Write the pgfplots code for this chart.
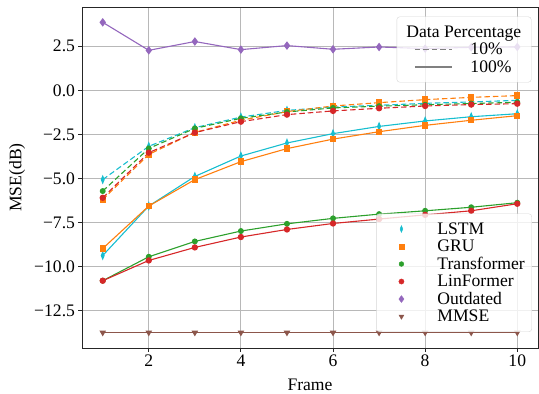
\documentclass[border=0pt]{standalone}
\usepackage{fontspec}
\setmainfont{Liberation Serif}
\usepackage{pgfplots}
\pgfplotsset{compat=1.18}

\definecolor{tcyan}{RGB}{23,190,207}
\definecolor{torange}{RGB}{255,127,14}
\definecolor{tgreen}{RGB}{44,160,44}
\definecolor{tred}{RGB}{214,39,40}
\definecolor{tpurple}{RGB}{148,103,189}
\definecolor{tbrown}{RGB}{140,86,75}

\newcommand{\fs}{\fontsize{17.6}{20}\selectfont}

\pgfplotsset{
  base/.style={width=456pt, height=341pt, scale only axis,
    xmin=0.55, xmax=10.45, ymin=-14.63, ymax=4.73},
  markleg/.style={legend image code/.code={%
      \path[draw=none, fill=none] (-20pt,0pt) -- (12pt,0pt);
      \draw[##1, fill opacity=1, draw opacity=1] plot[only marks] coordinates {(0pt,0pt)};}},
  lineleg/.style={legend image code/.code={%
      \path[draw=none, fill=none] (-10pt,0pt) -- (37pt,0pt);
      \draw[##1, draw opacity=1] (0pt,0pt) -- (37pt,0pt);}},
  legbox/.style={legend style={font=\fs, draw=black!20, fill=white,
      fill opacity=0.8, draw opacity=0.8, text opacity=1, rounded corners=3pt,
      cells={inner xsep=0pt, inner ysep=0.3pt, text height=12pt, text depth=4pt}},
    legend cell align=left},
  mLSTM/.style={tcyan, mark=diamond*, mark size=3.4pt, mark options={xscale=0.55, solid}},
  mGRU/.style={torange, mark=square*, mark size=2.6pt, mark options={solid}},
  mTrans/.style={tgreen, mark=*, mark size=2.4pt, mark options={solid}},
  mLin/.style={tred, mark=*, mark size=2.6pt, mark options={solid}},
  mOut/.style={tpurple, mark=diamond*, mark size=3.4pt, mark options={solid}},
  mMMSE/.style={tbrown, mark=triangle*, mark size=2.8pt, mark options={rotate=180, solid}},
  ten/.style={line width=1.1pt, dash pattern=on 5.5pt off 3pt},
  hundred/.style={line width=1.1pt},
}

\begin{document}
\begin{tikzpicture}
\begin{axis}[base,
  axis line style={black!85, line width=0.9pt},
  grid=major, major grid style={black!28, line width=0.9pt},
  xtick={2,4,6,8,10},
  xticklabels={\textrm{2},\textrm{4},\textrm{6},\textrm{8},\textrm{10}},
  ytick={-12.5,-10,-7.5,-5,-2.5,0,2.5},
  yticklabels={\textrm{−12.5},\textrm{−10.0},\textrm{−7.5},\textrm{−5.0},\textrm{−2.5},\textrm{0.0},\textrm{2.5}},
  tick align=outside, tick pos=left,
  major tick length=3.5pt, tick style={black!85, line width=0.9pt},
  tick label style={font=\fs},
  xlabel={Frame}, ylabel={MSE(dB)},
  every axis x label/.style={at={(axis description cs:0.5,-0.126)}, anchor=base, font=\fs},
  every axis y label/.style={at={(axis description cs:-0.1425,0.5)}, rotate=90, anchor=center, font=\fs},
  legbox,
  legend style={at={(0.9868,0.047)}, anchor=south east,
    inner xsep=5pt, inner ysep=6.5pt, column sep=22pt},
]
% 10% of the training data (dashed)
\addplot[mLSTM, ten, forget plot] coordinates {(1,-5.07)(2,-3.18)(3,-2.12)(4,-1.52)(5,-1.14)(6,-0.95)(7,-0.85)(8,-0.74)(9,-0.66)(10,-0.57)};
\addplot[mGRU, ten, forget plot] coordinates {(1,-6.20)(2,-3.64)(3,-2.39)(4,-1.70)(5,-1.21)(6,-0.89)(7,-0.70)(8,-0.53)(9,-0.40)(10,-0.30)};
\addplot[mTrans, ten, forget plot] coordinates {(1,-5.72)(2,-3.30)(3,-2.16)(4,-1.59)(5,-1.23)(6,-1.00)(7,-0.90)(8,-0.82)(9,-0.75)(10,-0.68)};
\addplot[mLin, ten, forget plot] coordinates {(1,-6.10)(2,-3.54)(3,-2.40)(4,-1.78)(5,-1.38)(6,-1.17)(7,-1.02)(8,-0.89)(9,-0.81)(10,-0.76)};
% 100% of the training data (solid)
\addplot[mLSTM, hundred, forget plot] coordinates {(1,-9.38)(2,-6.57)(3,-4.89)(4,-3.73)(5,-2.99)(6,-2.46)(7,-2.05)(8,-1.74)(9,-1.50)(10,-1.33)};
\addplot[mGRU, hundred, forget plot] coordinates {(1,-8.98)(2,-6.57)(3,-5.07)(4,-4.05)(5,-3.31)(6,-2.77)(7,-2.35)(8,-1.99)(9,-1.70)(10,-1.44)};
\addplot[mTrans, hundred, forget plot] coordinates {(1,-10.81)(2,-9.45)(3,-8.58)(4,-7.99)(5,-7.58)(6,-7.27)(7,-7.03)(8,-6.84)(9,-6.64)(10,-6.38)};
\addplot[mLin, hundred, forget plot] coordinates {(1,-10.81)(2,-9.66)(3,-8.92)(4,-8.33)(5,-7.90)(6,-7.56)(7,-7.31)(8,-7.07)(9,-6.84)(10,-6.44)};
% baselines
\addplot[mOut, hundred, forget plot] coordinates {(1,3.86)(2,2.27)(3,2.77)(4,2.31)(5,2.54)(6,2.33)(7,2.46)(8,2.37)(9,2.44)(10,2.46)};
\addplot[mMMSE, hundred, forget plot] coordinates {(1,-13.75)(2,-13.75)(3,-13.75)(4,-13.75)(5,-13.75)(6,-13.75)(7,-13.75)(8,-13.75)(9,-13.75)(10,-13.75)};

\addlegendimage{mLSTM, markleg}\addlegendentry{LSTM}
\addlegendimage{mGRU, markleg}\addlegendentry{GRU}
\addlegendimage{mTrans, markleg}\addlegendentry{Transformer}
\addlegendimage{mLin, markleg}\addlegendentry{LinFormer}
\addlegendimage{mOut, markleg}\addlegendentry{Outdated}
\addlegendimage{mMMSE, markleg}\addlegendentry{MMSE}
\end{axis}

% second legend: line style by amount of training data
\begin{axis}[base, hide axis,
  legbox,
  legend style={at={(0.9857,0.972)}, anchor=north east,
    inner xsep=8pt, inner ysep=6.5pt, column sep=16pt},
]
\addlegendimage{empty legend}\addlegendentry{\hspace*{-64pt}Data Percentage}
\addlegendimage{lineleg, gray, line width=1.3pt, dash pattern=on 5.5pt off 3pt}\addlegendentry{10\%}
\addlegendimage{lineleg, gray, line width=1.3pt}\addlegendentry{100\%}
\end{axis}
\pgfresetboundingbox
\path (-82pt,-46pt) rectangle (457pt,348pt);
\end{tikzpicture}
\end{document}
